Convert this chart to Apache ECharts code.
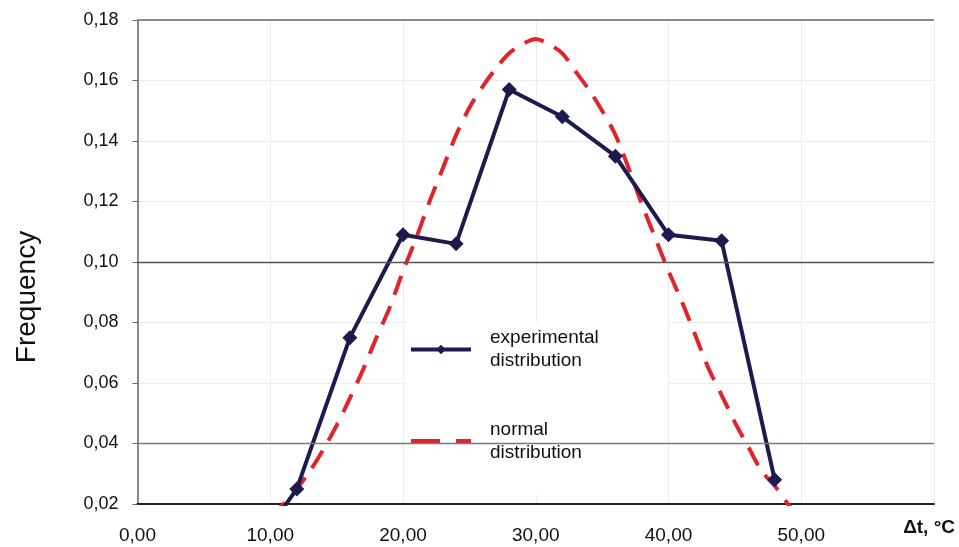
<!DOCTYPE html>
<html>
<head>
<meta charset="utf-8">
<script src="https://cdn.jsdelivr.net/npm/echarts@6/dist/echarts.min.js"></script>
<style>
  html, body { margin: 0; padding: 0; background: #fff; }
  #chart { width: 959px; height: 547px; }
</style>
</head>
<body>
<div id="chart"></div>
<script>
// experimental distribution (bin centres, frequency)
const expX = [8, 12, 16, 20, 24, 28, 32, 36, 40, 44, 48];
const expFreq = [0.0, 0.025, 0.075, 0.109, 0.106, 0.157, 0.148, 0.135, 0.109, 0.107, 0.028];

// normal distribution
const normX = [10, 11, 12, 13, 14, 15, 16, 17, 18, 19, 20, 21, 22, 23, 24, 25, 26, 27, 28, 29, 30,
               31, 32, 33, 34, 35, 36, 37, 38, 39, 40, 41, 42, 43, 44, 45, 46, 47, 48, 49, 50];
const normFreq = [0.016, 0.020, 0.025, 0.031, 0.038, 0.046, 0.055, 0.0645, 0.075, 0.085, 0.097,
                  0.108, 0.120, 0.131, 0.142, 0.151, 0.158, 0.164, 0.169, 0.172, 0.1737,
                  0.172, 0.169, 0.163, 0.157, 0.150, 0.142, 0.131, 0.119, 0.108, 0.097,
                  0.087, 0.076, 0.065, 0.056, 0.047, 0.039, 0.031, 0.026, 0.020, 0.015];

// darker horizontal rules
const ruleLines = [0.04, 0.10, 0.18];

const seriesNames = ['experimental distribution', 'normal distribution'];

const FONT = 'Liberation Sans, Arial, Helvetica, sans-serif';

function comma(v) {
    return v.toFixed(2).replace('.', ',');
}

let chart = echarts.init(document.getElementById('chart'));

chart.setOption({
    animation: false,
    textStyle: { fontFamily: FONT },
    grid: { left: 137.5, right: 25, top: 20, bottom: 43 },
    graphic: [{
        // white box behind the legend, hides the grid there
        type: 'rect',
        z: 3,
        shape: { x: 406, y: 322, width: 262, height: 173 },
        style: { fill: '#fff' }
    }],
    legend: [{
        data: [seriesNames[0]],
        left: 409, top: 315, padding: 0,
        itemWidth: 60, itemHeight: 12,
        lineStyle: { width: 4 },
        formatter: function (n) { return n.replace(' ', '\n'); },
        textStyle: { fontSize: 19, color: '#111', lineHeight: 23, padding: [23, 0, 0, 14], fontFamily: FONT }
    }, {
        data: [seriesNames[1]],
        left: 409, top: 418, padding: 0,
        itemWidth: 60, itemHeight: 12,
        lineStyle: { type: [29, 16], width: 4 },
        itemStyle: { opacity: 0 },
        formatter: function (n) { return n.replace(' ', '\n'); },
        textStyle: { fontSize: 19, color: '#111', lineHeight: 23, padding: [0, 0, 0, 14], fontFamily: FONT }
    }],
    xAxis: {
        type: 'value',
        min: 0, max: 60, interval: 10,
        axisLine: { lineStyle: { color: '#222', width: 2 } },
        axisTick: { show: false },
        axisLabel: {
            margin: 22, fontSize: 19, color: '#111', fontFamily: FONT,
            formatter: function (v) { return v === 60 ? '' : comma(v); }
        },
        splitLine: { show: true, lineStyle: { color: '#ececec', width: 1 } },
        name: 'Δt, °C',
        nameLocation: 'end',
        nameGap: 21,
        nameTextStyle: {
            fontWeight: 'bold', fontSize: 19, color: '#111', fontFamily: FONT,
            align: 'right', verticalAlign: 'top', padding: [14, 0, 0, 0]
        }
    },
    yAxis: {
        type: 'value',
        min: 0.02, max: 0.18, interval: 0.02,
        axisLine: { show: true, lineStyle: { color: '#666', width: 1.5 } },
        axisTick: { show: true, length: 5, lineStyle: { color: '#666' } },
        axisLabel: {
            margin: 19, fontSize: 18, color: '#111', fontFamily: FONT,
            formatter: comma
        },
        splitLine: { show: true, lineStyle: { color: '#ececec', width: 1 } },
        name: 'Frequency',
        nameLocation: 'middle',
        nameGap: 96,
        nameTextStyle: { fontSize: 28, color: '#111', fontFamily: FONT, padding: [0, 70, 0, 0] }
    },
    series: [{
        name: seriesNames[0],
        type: 'line',
        z: 4,
        clip: true,
        data: expX.map(function (x, i) { return [x, expFreq[i]]; }),
        symbol: 'diamond',
        symbolSize: 15,
        lineStyle: { color: '#1c1a4e', width: 4 },
        itemStyle: { color: '#1c1a4e' }
    }, {
        name: seriesNames[1],
        type: 'line',
        z: 2,
        clip: true,
        smooth: 0.3,
        symbol: 'none',
        data: normX.map(function (x, i) { return [x, normFreq[i]]; }),
        lineStyle: { color: '#e3232a', width: 4, type: [20, 12] },
        itemStyle: { color: '#e3232a' },
        markLine: {
            silent: true,
            symbol: 'none',
            label: { show: false },
            data: ruleLines.map(function (v) {
                return {
                    yAxis: v,
                    lineStyle: v === 0.18
                        ? { color: '#8a8a8a', width: 2, type: 'solid' }
                        : { color: v === 0.10 ? '#555' : '#7a7a7a', width: 1.3, type: 'solid' }
                };
            })
        }
    }]
});
</script>
</body>
</html>
